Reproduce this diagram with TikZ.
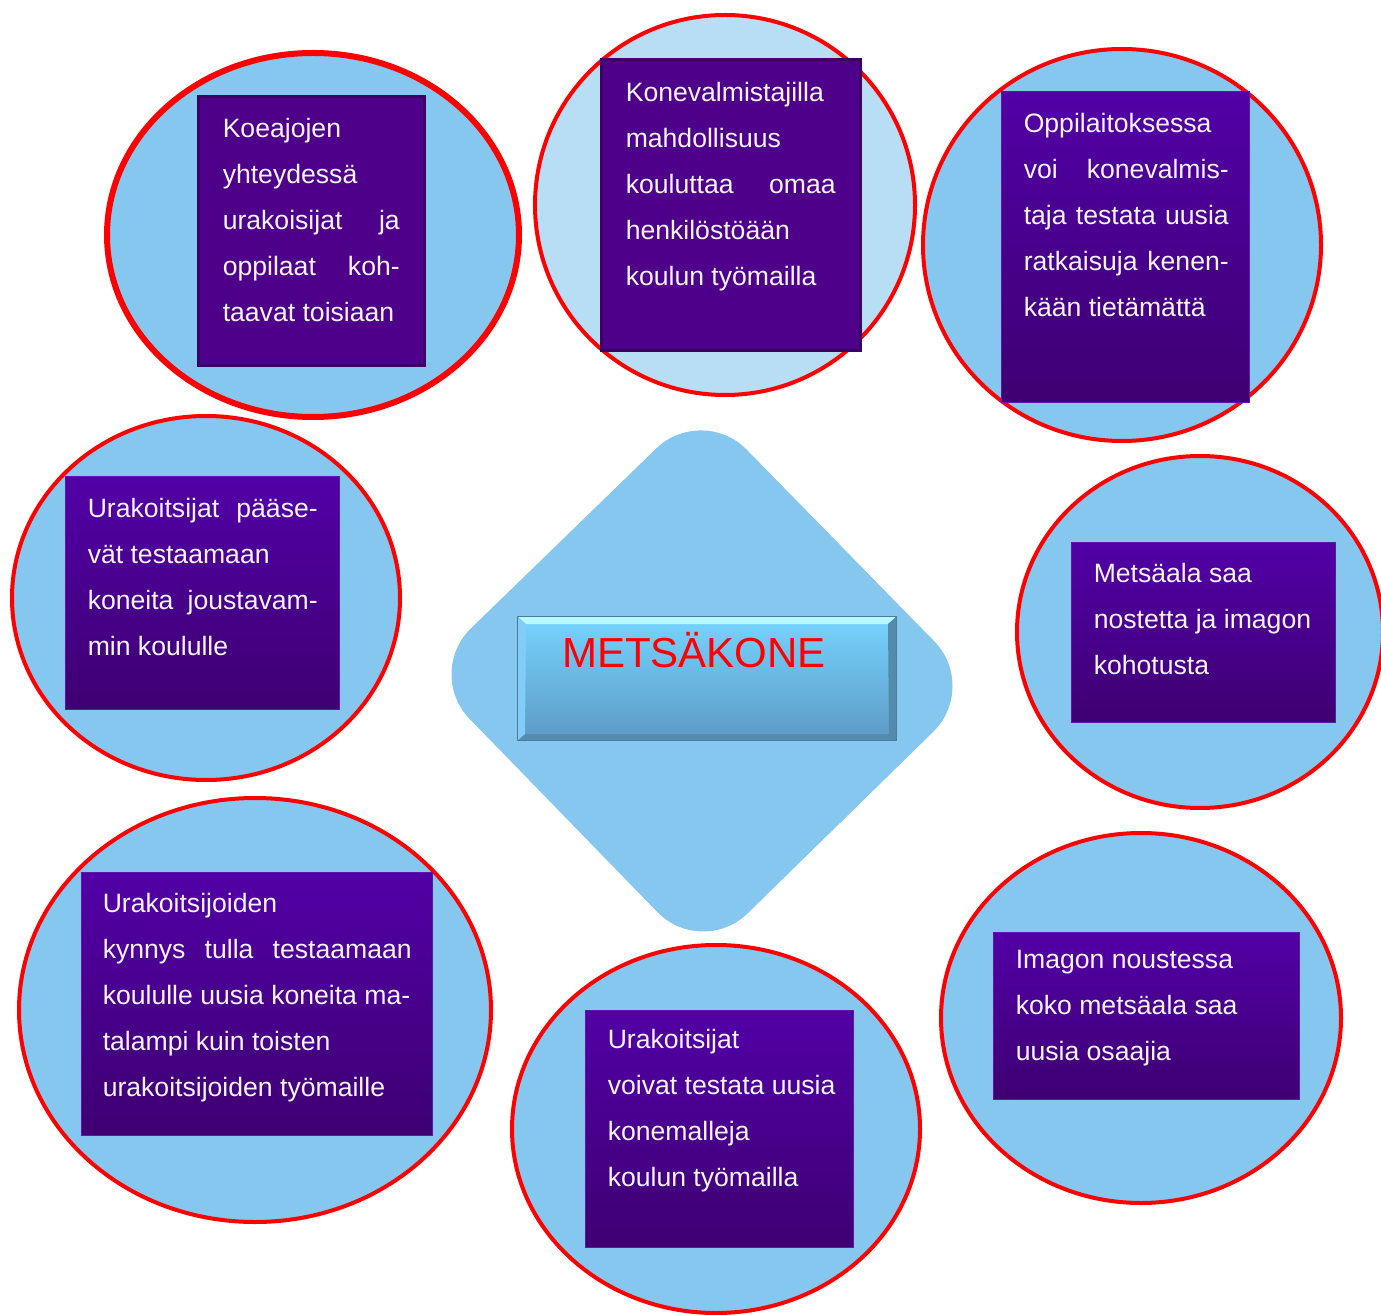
\documentclass[tikz,border=0pt]{standalone}
\usepackage{fontspec}
\setmainfont{Liberation Sans}

\tikzset{every picture/.style={line width=0.75pt}}
\tikzset{
  bubble/.style={draw={rgb, 255:red, 255; green, 0; blue, 0 }, line width=2pt, fill={rgb, 255:red, 133; green, 199; blue, 239 }},
  solidbox/.style={draw={rgb, 255:red, 58; green, 0; blue, 100 }, line width=1.5pt, fill={rgb, 255:red, 78; green, 0; blue, 138 }},
  shadebox/.style={draw={rgb, 255:red, 92; green, 24; blue, 172 }, line width=0.5pt, top color={rgb, 255:red, 82; green, 0; blue, 166 }, bottom color={rgb, 255:red, 62; green, 0; blue, 114 }},
  boxtext/.style={anchor=north west, inner sep=0pt, align=justify, color={rgb, 255:red, 246; green, 244; blue, 252 }, font=\fontsize{13.3}{23}\selectfont, execute at begin node={\tolerance=10000\relax}},
}

\begin{document}
\begin{tikzpicture}[x=0.5pt,y=0.5pt,yscale=-1,xscale=1]
        \path [use as bounding box] (0,0) rectangle (1381,1315);
        \clip (0,0) rectangle (1381,1315);

        % Diamond
        \draw  [draw opacity=0][fill={rgb, 255:red, 133; green, 199; blue, 239 }, rounded corners=32pt] (702,404) -- (979,687) -- (702,958) -- (425,673) -- cycle ;

        % Centre box
        \draw  [draw={rgb, 255:red, 74; green, 122; blue, 153 }, top color={rgb, 255:red, 118; green, 212; blue, 255 }, bottom color={rgb, 255:red, 92; green, 154; blue, 196 }] (518,617) rectangle (896,740) ;
        \fill  [fill={rgb, 255:red, 184; green, 248; blue, 255 }] (518,617) -- (896,617) -- (888,624) -- (526,624) -- cycle ;
        \fill  [fill={rgb, 255:red, 82; green, 140; blue, 176 }] (518,740) -- (896,740) -- (889,734) -- (525,734) -- cycle ;
        \fill  [fill={rgb, 255:red, 130; green, 205; blue, 248 }] (518,617) -- (526,624) -- (525,734) -- (518,740) -- cycle ;
        \fill  [fill={rgb, 255:red, 84; green, 138; blue, 172 }] (896,617) -- (888,624) -- (889,734) -- (896,740) -- cycle ;
        \draw (694,667) node (metsakone) [anchor=base, inner sep=0pt, font=\fontsize{21}{25}\selectfont, color={rgb, 255:red, 255; green, 0; blue, 0 }] {METSÄKONE};

        % Bubbles
        \draw  [bubble, line width=3pt] (313,235) ellipse (206 and 182) ;
        \draw  [bubble, fill={rgb, 255:red, 184; green, 222; blue, 245 }] (725,205) ellipse (190 and 190) ;
        \draw  [bubble] (1122,245) ellipse (199 and 196) ;
        \draw  [bubble] (206,598) ellipse (194 and 182) ;
        \draw  [bubble] (1200,632) ellipse (183 and 176) ;
        \draw  [bubble] (255,1010) ellipse (236 and 212) ;
        \draw  [bubble] (716,1129) ellipse (204 and 184) ;
        \draw  [bubble] (1141,1018) ellipse (200 and 185) ;

        % Boxes
        \draw  [solidbox] (198,97) rectangle (424,366) ;
        \draw  [solidbox] (601,60) rectangle (860,351) ;
        \draw  [shadebox] (1001,92) rectangle (1249,403) ;
        \draw  [shadebox] (65,477) rectangle (339,709) ;
        \draw  [shadebox] (1071,543) rectangle (1335,722) ;
        \draw  [shadebox] (81,872) rectangle (432,1135) ;
        \draw  [shadebox] (585,1010) rectangle (853,1247) ;
        \draw  [shadebox] (993,932) rectangle (1299,1099) ;

        % Text
        \draw (222,117) node (koeajo) [boxtext, text width=88.5pt] {Koeajojen\\ yhteydessä\\ urakoisijat ja\linebreak oppilaat koh-\linebreak taavat toisiaan};
        \draw (625,81) node (konevalm) [boxtext, text width=105pt] {Konevalmistajilla\\ mahdollisuus\\ kouluttaa omaa\linebreak henkilöstöään\\ koulun työmailla};
        \draw (1023,112) node (oppilait) [boxtext, text width=102.5pt] {Oppilaitoksessa\\ voi konevalmis-\linebreak taja testata uusia\linebreak ratkaisuja kenen-\linebreak kään tietämättä};
        \draw (87,497) node (paase) [boxtext, text width=115pt] {Urakoitsijat pääse-\linebreak vät testaamaan\\ koneita joustavam-\linebreak min koululle};
        \draw (1093,562) node (imago) [boxtext, text width=125pt] {Metsäala saa\\ nostetta ja imagon\\ kohotusta};
        \draw (102,892) node (kynnys) [boxtext, text width=154.5pt] {Urakoitsijoiden\\ kynnys tulla testaamaan\linebreak koululle uusia koneita ma-\\ talampi kuin toisten\\ urakoitsijoiden työmaille};
        \draw (607,1028) node (konemalli) [boxtext, text width=120pt] {Urakoitsijat\\ voivat testata uusia\\ konemalleja\\ koulun työmailla};
        \draw (1015,949) node (osaajat) [boxtext, text width=135pt] {Imagon noustessa\\ koko metsäala saa\\ uusia osaajia};

\end{tikzpicture}
\end{document}
